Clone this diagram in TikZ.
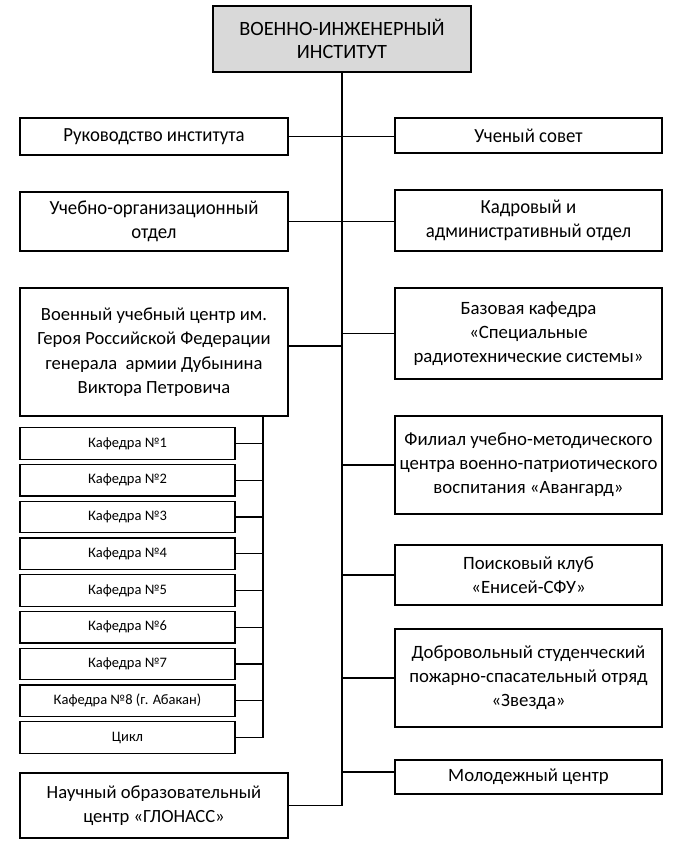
\documentclass[tikz,border=0pt]{standalone}
\usepackage{fontspec}
\setmainfont{Carlito}
\newfontfamily\narrowfont[FakeStretch=0.94]{Carlito}
\tikzset{
  box/.style={draw, line width=1.2pt, inner sep=0pt, align=center},
  lbox/.style={box, minimum width=268pt, font=\fontsize{18.6}{24.5}\selectfont},
  rbox/.style={box, minimum width=267pt, font=\fontsize{18.8}{24}\selectfont},
  nbox/.style={box, font=\narrowfont\fontsize{20}{23.5}\selectfont},
  tbox/.style={box, font=\fontsize{20.3}{23.5}\selectfont},
  kbox/.style={box, minimum width=215pt, minimum height=31.5pt, font=\fontsize{14.5}{16}\selectfont},
  conn/.style={line width=1.2pt}
}
\begin{document}
\begin{tikzpicture}[x=1pt,y=-1pt]
\useasboundingbox (0,0) rectangle (692,848);
\node[tbox, fill={rgb,255:red,217;green,217;blue,217}, minimum width=258pt, minimum height=66pt] (top) at (342,39) {ВОЕННО-ИНЖЕНЕРНЫЙ\\ИНСТИТУТ};
\node[nbox, minimum width=268pt, minimum height=37pt] (ruk) at (154,136.5) {Руководство института};
\node[nbox, minimum width=267pt, minimum height=35pt] (uch) at (528.5,135.5) {Ученый совет};
\node[nbox, minimum width=268pt, minimum height=59pt] (uo) at (154,221.5) {Учебно-организационный\\отдел};
\node[nbox, minimum width=267pt, minimum height=61pt] (kadr) at (528.5,220.5) {Кадровый и\\административный отдел};
\node[lbox, minimum height=128pt] (vuc) at (154,352) {Военный учебный центр им.\\Героя Российской Федерации\\генерала\ \ армии Дубынина\\Виктора Петровича};
\node[rbox, minimum height=91pt] (baz) at (528.5,333.5) {Базовая кафедра\\«Специальные\\радиотехнические системы»};
\node[rbox, minimum height=98pt] (fil) at (528.5,465) {Филиал учебно-методического\\центра военно-патриотического\\воспитания «Авангард»};
\node[rbox, minimum height=60pt] (poisk) at (528.5,575) {Поисковый клуб\\«Енисей-СФУ»};
\node[rbox, minimum height=98pt] (dobr) at (528.5,678) {Добровольный студенческий\\пожарно-спасательный отряд\\«Звезда»};
\node[rbox, minimum height=34pt] (mol) at (528.5,777) {Молодежный центр};
\node[lbox, minimum height=65pt] (glon) at (154,805.5) {Научный образовательный\\центр «ГЛОНАСС»};
\node[kbox] (k1) at (127.5,443.5) {Кафедра №1};
\node[kbox] (k2) at (127.5,480.25) {Кафедра №2};
\node[kbox] (k3) at (127.5,517) {Кафедра №3};
\node[kbox] (k4) at (127.5,553.75) {Кафедра №4};
\node[kbox] (k5) at (127.5,590.5) {Кафедра №5};
\node[kbox] (k6) at (127.5,627.25) {Кафедра №6};
\node[kbox] (k7) at (127.5,664) {Кафедра №7};
\node[kbox] (k8) at (127.5,700.75) {Кафедра №8 (г. Абакан)};
\node[kbox] (k9) at (127.5,737.5) {Цикл};
\coordinate (bus) at (263,0);
\coordinate (vucj) at (342,346);
\draw[conn] (top.south) -- (top.south |- glon.east) -- (glon.east);
\draw[conn] (ruk.east) -- (ruk.east -| uch.west);
\draw[conn] (uo.east) -- (uo.east -| kadr.west);
\draw[conn] (vucj -| vuc.east) -- (vucj);
\draw[conn] (baz.west) -- (baz.west -| top.south);
\draw[conn] (fil.west) -- (fil.west -| top.south);
\draw[conn] (poisk.west) -- (poisk.west -| top.south);
\draw[conn] (dobr.west) -- (dobr.west -| top.south);
\draw[conn] ([yshift=5pt]mol.west) -- ([yshift=5pt]mol.west -| top.south);
\draw[conn] (vuc.south -| bus) -- (k9.east -| bus);
\foreach \k in {k1,k2,k3,k4,k5,k6,k7,k8,k9}{
  \draw[conn] (\k.east) -- (\k.east -| bus);
}
\end{tikzpicture}
\end{document}
